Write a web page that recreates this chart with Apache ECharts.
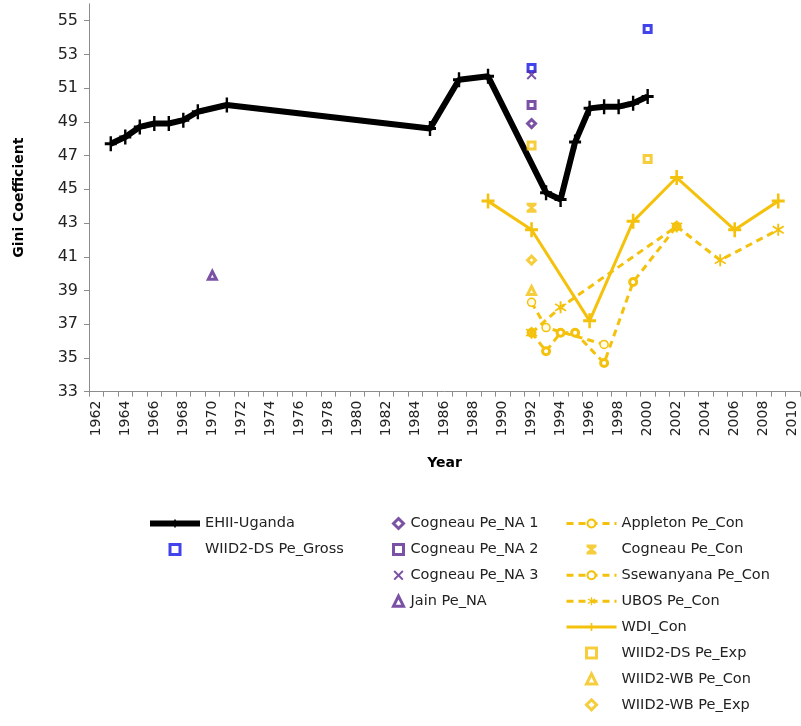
<!DOCTYPE html>
<html>
<head>
<meta charset="utf-8">
<script src="https://cdn.jsdelivr.net/npm/echarts@6/dist/echarts.min.js"></script>
<style>
  html, body { margin: 0; padding: 0; background: #fff; }
  #chart { width: 801px; height: 726px; }
</style>
</head>
<body>
<div id="chart"></div>
<script>
// categories (years on the x axis)
const years = ['1962', '1963', '1964', '1965', '1966', '1967', '1968', '1969', '1970', '1971',
  '1972', '1973', '1974', '1975', '1976', '1977', '1978', '1979', '1980', '1981',
  '1982', '1983', '1984', '1985', '1986', '1987', '1988', '1989', '1990', '1991',
  '1992', '1993', '1994', '1995', '1996', '1997', '1998', '1999', '2000', '2001',
  '2002', '2003', '2004', '2005', '2006', '2007', '2008', '2009', '2010']

// series values as [year, gini]
const ehii = [['1963', 47.7], ['1964', 48.1], ['1965', 48.7], ['1966', 48.9], ['1967', 48.9],
  ['1968', 49.1], ['1969', 49.6], ['1971', 50.0], ['1985', 48.6], ['1987', 51.5], ['1989', 51.7],
  ['1993', 44.8], ['1994', 44.4], ['1995', 47.8], ['1996', 49.8], ['1997', 49.9], ['1998', 49.9],
  ['1999', 50.1], ['2000', 50.5]]
const wiidDsGross = [['1992', 52.2], ['2000', 54.5]]
const cogneauNa1 = [['1992', 48.9]]
const cogneauNa2 = [['1992', 50.0]]
const cogneauNa3 = [['1992', 51.8]]
const jainNa = [['1970', 39.9]]
const appletonCon = [['1992', 38.3], ['1993', 36.8], ['1997', 35.8]]
const cogneauCon = [['1992', 43.9]]
const ssewanyanaCon = [['1992', 36.5], ['1993', 35.4], ['1994', 36.5], ['1995', 36.5], ['1997', 34.7],
  ['1999', 39.5], ['2002', 42.8]]
const ubosCon = [['1992', 36.5], ['1994', 38.0], ['2002', 42.8], ['2005', 40.8], ['2009', 42.6]]
const wdiCon = [['1989', 44.3], ['1992', 42.6], ['1996', 37.2], ['1999', 43.1], ['2002', 45.7],
  ['2006', 42.6], ['2009', 44.3]]
const wiidDsExp = [['1992', 47.6], ['2000', 46.8]]
const wiidWbCon = [['1992', 39.0]]
const wiidWbExp = [['1992', 40.8]]

const BLACK = '#000000'
const BLUE = '#1414e6'
const PURPLE = '#5a2590'
const GOLD = '#f4c20d'

// path symbols keep their aspect in the legend
const PLUS = 'path://M4,0h2v4h4v2h-4v4h-2v-4h-4v-2h4z'
const STAR = 'path://M4.3,0h1.4v3.6l2.9,-2.1l0.8,1.1l-3.2,2.4l3.2,2.4l-0.8,1.1l-2.9,-2.1v3.6h-1.4v-3.6l-2.9,2.1l-0.8,-1.1l3.2,-2.4l-3.2,-2.4l0.8,-1.1l2.9,2.1z'
const HOUR = 'path://M0,0h10v2.5l-3.5,2.5l3.5,2.5v2.5h-10v-2.5l3.5,-2.5l-3.5,-2.5z'
const CROSS = 'path://M1.4,0L5,3.6L8.6,0L10,1.4L6.4,5L10,8.6L8.6,10L5,6.4L1.4,10L0,8.6L3.6,5L0,1.4z'
const RECT = 'path://M0,0h10v10h-10z'
const TRI = 'path://M5,0L10,10H0z'
const DIAM = 'path://M5,0L10,5L5,10L0,5z'
const CIRC = 'path://M5,0A5,5 0 1,1 4.99,0z'

const font = '"DejaVu Sans", sans-serif'

function hollow(name, data, symbol, color, size, bw) {
  return {
    name, type: 'scatter', data, symbol, symbolSize: size,
    itemStyle: { color: '#fff', borderColor: color, borderWidth: bw },
    z: 5
  }
}

function solid(name, data, symbol, color, size) {
  return {
    name, type: 'scatter', data, symbol, symbolSize: size,
    itemStyle: { color: color },
    z: 5
  }
}

function dashed(name, data, symbol, size, fill, bw) {
  return {
    name, type: 'line', data, symbol, symbolSize: size, showAllSymbol: true,
    lineStyle: { color: GOLD, width: 3, type: [7, 5] },
    itemStyle: { color: fill, borderColor: GOLD, borderWidth: bw },
    z: 3
  }
}

// legend entry for a hollow marker, thick border like the plot marks
function thick(name) {
  return { name, itemStyle: { borderWidth: 3 } }
}

// legend entry for a line series, line as wide as in the plot
function wide(name, w) {
  return { name, lineStyle: { width: w } }
}

const legendText = { fontFamily: font, fontSize: 14.5, color: '#222' }

const chart = echarts.init(document.getElementById('chart'))
chart.setOption({
  animation: false,
  textStyle: { fontFamily: font },
  grid: { left: 89, right: 1, top: 3.8, bottom: 334.3 },
  xAxis: {
    type: 'category',
    data: years,
    boundaryGap: true,
    name: 'Year',
    nameLocation: 'middle',
    nameGap: 65,
    nameTextStyle: { fontFamily: 'DejaVu Sans', fontWeight: 'bold', fontSize: 14, color: '#000' },
    axisLine: { lineStyle: { color: '#8c8c8c', width: 1 } },
    axisTick: { show: true, interval: 0, alignWithLabel: false, length: 5, lineStyle: { color: '#8c8c8c' } },
    axisLabel: { interval: 1, rotate: 90, margin: 9, fontFamily: 'DejaVu Sans', fontSize: 14, color: '#222' },
    splitLine: { show: false }
  },
  yAxis: {
    type: 'value',
    min: 33,
    max: 56,
    interval: 2,
    name: 'Gini Coefficient',
    nameLocation: 'middle',
    nameGap: 63,
    nameRotate: 90,
    nameTextStyle: { fontFamily: 'DejaVu Sans', fontWeight: 'bold', fontSize: 14, color: '#000' },
    axisLine: { show: true, lineStyle: { color: '#8c8c8c', width: 1 } },
    axisTick: { show: true, length: 5, lineStyle: { color: '#8c8c8c' } },
    axisLabel: { showMaxLabel: false, margin: 11, fontFamily: 'DejaVu Sans', fontSize: 16, color: '#222' },
    splitLine: { show: false }
  },
  legend: [
    {
      left: 147, top: 516, padding: 0, orient: 'vertical', itemWidth: 50, itemHeight: 10, itemGap: 10.9,
      textStyle: legendText,
      data: [wide('EHII-Uganda', 6), thick('WIID2-DS Pe_Gross')]
    },
    {
      left: 392, top: 516, padding: 0, orient: 'vertical', itemWidth: 14, itemHeight: 10, itemGap: 10.9,
      textStyle: legendText,
      data: [thick('Cogneau Pe_NA 1'), thick('Cogneau Pe_NA 2'), 'Cogneau Pe_NA 3', thick('Jain Pe_NA')]
    },
    {
      left: 565, top: 516, padding: 0, orient: 'vertical', itemWidth: 50, itemHeight: 10, itemGap: 10.9,
      textStyle: legendText,
      data: [wide('Appleton Pe_Con', 3), 'Cogneau Pe_Con', wide('Ssewanyana Pe_Con', 3), wide('UBOS Pe_Con', 3),
        wide('WDI_Con', 3), thick('WIID2-DS Pe_Exp'), thick('WIID2-WB Pe_Con'), thick('WIID2-WB Pe_Exp')]
    }
  ],
  series: [
    {
      name: 'EHII-Uganda', type: 'line', data: ehii, symbol: PLUS, symbolSize: [12, 15], showAllSymbol: true,
      lineStyle: { color: BLACK, width: 6 },
      itemStyle: { color: BLACK },
      z: 4
    },
    hollow('WIID2-DS Pe_Gross', wiidDsGross, RECT, BLUE, 7, 3),
    hollow('Cogneau Pe_NA 1', cogneauNa1, DIAM, PURPLE, 8, 3),
    hollow('Cogneau Pe_NA 2', cogneauNa2, RECT, PURPLE, 7, 3),
    solid('Cogneau Pe_NA 3', cogneauNa3, CROSS, PURPLE, 10),
    hollow('Jain Pe_NA', jainNa, TRI, PURPLE, 8, 3),
    dashed('Appleton Pe_Con', appletonCon, CIRC, 8, '#fffbe6', 1.5),
    solid('Cogneau Pe_Con', cogneauCon, HOUR, GOLD, 10),
    dashed('Ssewanyana Pe_Con', ssewanyanaCon, CIRC, 7, '#fff', 3),
    dashed('UBOS Pe_Con', ubosCon, STAR, 12, GOLD, 0),
    {
      name: 'WDI_Con', type: 'line', data: wdiCon, symbol: PLUS, symbolSize: [13, 15], showAllSymbol: true,
      lineStyle: { color: GOLD, width: 3 },
      itemStyle: { color: GOLD },
      z: 3
    },
    hollow('WIID2-DS Pe_Exp', wiidDsExp, RECT, GOLD, 7, 3),
    hollow('WIID2-WB Pe_Con', wiidWbCon, TRI, GOLD, 8, 3),
    hollow('WIID2-WB Pe_Exp', wiidWbExp, DIAM, GOLD, 8, 3)
  ]
})
</script>
</body>
</html>
